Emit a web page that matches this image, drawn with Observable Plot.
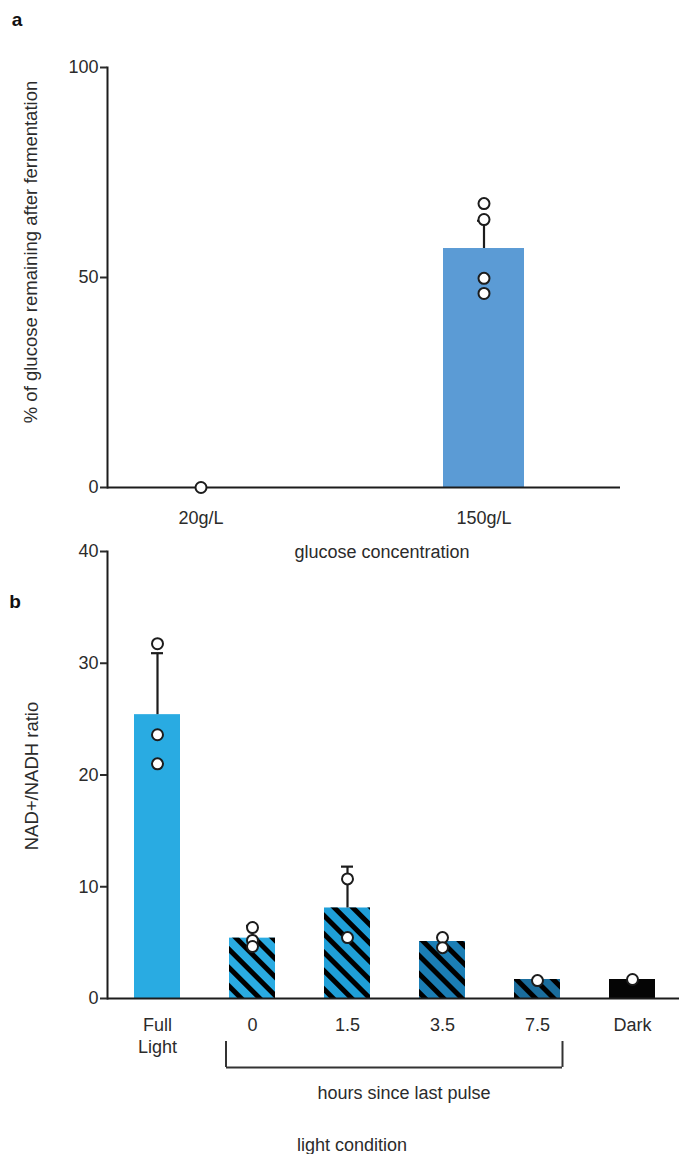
<!DOCTYPE html>
<html>
<head>
<meta charset="utf-8">
<script src="https://cdn.jsdelivr.net/npm/d3@7"></script>
<script src="https://cdn.jsdelivr.net/npm/@observablehq/plot@0.6"></script>
<style>
  body { margin: 0; background: #fff; }
  #root { position: relative; width: 679px; height: 1154px; font-family: "Liberation Sans", Arial, Helvetica, sans-serif; color: #2b2b2b; }
  .abs { position: absolute; white-space: nowrap; }
  .lbl { font-size: 18px; transform: translate(-50%, -50%); }
  .vlbl { font-size: 18.5px; transform: translate(-50%, -50%) rotate(-90deg); }
  .panel { font-size: 19px; font-weight: bold; transform: translate(-50%, -50%); color: #111; }
</style>
</head>
<body>
<div id="root"></div>
<script>
// ---------- Panel a data ----------
const concCats = ["20g/L", "150g/L"];
const concMeans = [0, 56.9];
const concErrCats = ["150g/L"];
const concErrTops = [63.5];
const concPointCats = ["20g/L", "150g/L", "150g/L", "150g/L", "150g/L"];
const concPointVals = [0, 67.6, 63.8, 49.8, 46.2];
const concTicks = [0, 50, 100];

// ---------- Panel b data ----------
const lightCats = ["Full Light", "0", "1.5", "3.5", "7.5", "Dark"];
const lightTickLabels = ["Full\nLight", "0", "1.5", "3.5", "7.5", "Dark"];
const ratioMeans = [25.4, 5.4, 8.1, 5.1, 1.7, 1.7];
const ratioErrCats = ["Full Light", "0", "1.5"];
const ratioErrTops = [30.9, 6.5, 11.8];
const ratioPointCats = ["Full Light", "Full Light", "Full Light", "0", "0", "0", "1.5", "1.5", "3.5", "3.5", "7.5", "Dark"];
const ratioPointVals = [31.75, 23.6, 21.0, 6.35, 5.2, 4.65, 10.7, 5.45, 5.45, 4.55, 1.6, 1.7];
const ratioTicks = [0, 10, 20, 30, 40];
const hatchedCats = ["0", "1.5", "3.5", "7.5"];
const bracketFrom = "0";
const bracketTo = "7.5";
const bracketLevels = [-3.85, -6.17];

// ---------- styles ----------
const concColor = "#5b9bd5";
const lightPalette = ["#29abe2", "#2aabe2", "#1f9fd8", "#1b7eb5", "#1a6d9d", "#050505"];
const ink = "#1c1c1c";
const svgStyle = {fontFamily: '"Liberation Sans", Arial, Helvetica, sans-serif', fontSize: "18px", color: "#2b2b2b", background: "transparent", overflow: "visible"};

const root = document.getElementById("root");

function place(el, top) {
  el.style.position = "absolute";
  el.style.left = "0px";
  el.style.top = top + "px";
  root.appendChild(el);
}
function addText(txt, x, y, cls) {
  const d = document.createElement("div");
  d.className = "abs " + cls;
  d.style.left = x + "px";
  d.style.top = y + "px";
  d.textContent = txt;
  root.appendChild(d);
}

// ---------- Panel a ----------
const concBars = concCats.map((c, i) => ({cat: c, mean: concMeans[i]}));
const concErr = concErrCats.map((c, i) => ({cat: c, mean: concMeans[concCats.indexOf(c)], top: concErrTops[i]}));
const concPts = concPointCats.map((c, i) => ({cat: c, v: concPointVals[i]}));

const plotA = Plot.plot({
  width: 679, height: 540,
  marginLeft: 107, marginRight: 59, marginTop: 67, marginBottom: 53,
  style: svgStyle,
  x: {domain: concCats, range: [159.5, 524], paddingInner: 0.714, paddingOuter: 0},
  y: {domain: [0, 100]},
  marks: [
    Plot.barY(concBars, {x: "cat", y: "mean", fill: concColor}),
    Plot.ruleX(concErr, {x: "cat", y1: "mean", y2: "top", stroke: ink, strokeWidth: 2.2}),
    Plot.tickY(concErr, {x: "cat", y: "top", stroke: ink, strokeWidth: 2, insetLeft: 34, insetRight: 34}),
    Plot.ruleY([0], {stroke: ink, strokeWidth: 2}),
    Plot.frame({anchor: "left", stroke: ink, strokeWidth: 2}),
    Plot.dot(concPts, {x: "cat", y: "v", r: 5.5, fill: "white", stroke: ink, strokeWidth: 2}),
    Plot.axisY({ticks: concTicks, tickSize: 7, tickPadding: 2, strokeWidth: 2, fontSize: 18, label: null}),
    Plot.axisX({tickSize: 0, tickPadding: 24, fontSize: 18, label: null})
  ]
});
place(plotA, 0);

// ---------- Panel b ----------
const lightBars = lightCats.map((c, i) => ({cat: c, mean: ratioMeans[i]}));
const hatchBars = lightBars.filter(d => hatchedCats.includes(d.cat));
const lightErr = ratioErrCats.map((c, i) => ({cat: c, mean: ratioMeans[lightCats.indexOf(c)], top: ratioErrTops[i]}));
const lightPts = ratioPointCats.map((c, i) => ({cat: c, v: ratioPointVals[i]}));
const bracketH = [{x1: bracketFrom, x2: bracketTo, y: bracketLevels[1]}];

const plotB = Plot.plot({
  width: 679, height: 614,
  marginLeft: 107, marginRight: 0, marginTop: 11, marginBottom: 156,
  style: svgStyle,
  x: {domain: lightCats, range: [132, 657], paddingInner: 0.514, paddingOuter: 0},
  y: {domain: [0, 40]},
  color: {type: "ordinal", domain: lightCats, range: lightPalette},
  marks: [
    Plot.barY(lightBars, {x: "cat", y: "mean", fill: "cat"}),
    Plot.barY(hatchBars, {x: "cat", y: "mean", fill: "url(#stripes)"}),
    Plot.ruleX(lightErr, {x: "cat", y1: "mean", y2: "top", stroke: ink, strokeWidth: 2.2}),
    Plot.tickY(lightErr, {x: "cat", y: "top", stroke: ink, strokeWidth: 2.2, insetLeft: 17, insetRight: 17}),
    Plot.ruleY([0], {stroke: ink, strokeWidth: 2}),
    Plot.frame({anchor: "left", stroke: ink, strokeWidth: 2}),
    Plot.dot(lightPts, {x: "cat", y: "v", r: 5.5, fill: "white", stroke: ink, strokeWidth: 2}),
    // bracket under the pulse conditions
    Plot.ruleY(bracketH, {x1: "x1", x2: "x2", y: "y", stroke: "#333", strokeWidth: 2, insetLeft: -3, insetRight: -2}),
    Plot.ruleX([bracketFrom], {x: d => d, y1: bracketLevels[0], y2: bracketLevels[1], stroke: "#333", strokeWidth: 2, dx: -26.5}),
    Plot.ruleX([bracketTo], {x: d => d, y1: bracketLevels[0], y2: bracketLevels[1], stroke: "#333", strokeWidth: 2, dx: 25}),
    Plot.axisY({ticks: ratioTicks, tickSize: 7, tickPadding: 2, strokeWidth: 2, fontSize: 18, label: null}),
    Plot.axisX({tickSize: 0, tickPadding: 17.5, fontSize: 18, lineHeight: 1.2, label: null,
      tickFormat: d => lightTickLabels[lightCats.indexOf(d)]})
  ]
});
plotB.insertAdjacentHTML("afterbegin",
  '<defs><pattern id="stripes" patternUnits="userSpaceOnUse" width="13" height="13" patternTransform="rotate(-45)">' +
  '<rect x="0" y="0" width="5" height="13" fill="#000"></rect></pattern></defs>');
place(plotB, 540);

// ---------- titles & labels ----------
addText("a", 17, 20, "panel");
addText("b", 15, 602, "panel");
addText("% of glucose remaining after fermentation", 31, 252, "vlbl");
addText("glucose concentration", 382, 552, "lbl");
addText("NAD+/NADH ratio", 32, 776, "vlbl");
addText("hours since last pulse", 404, 1093, "lbl");
addText("light condition", 352, 1145, "lbl");
</script>
</body>
</html>
